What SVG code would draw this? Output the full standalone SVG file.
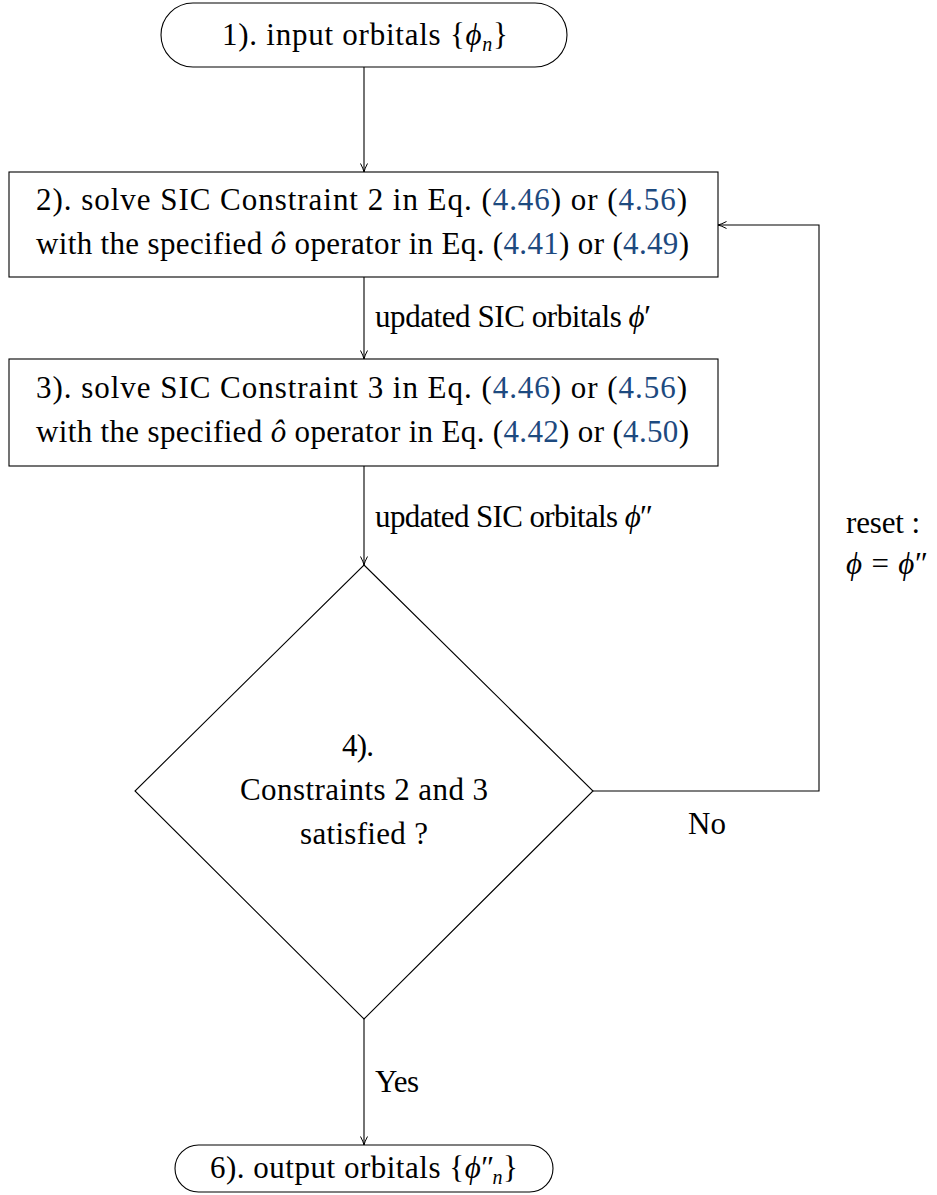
<svg xmlns="http://www.w3.org/2000/svg" width="937" height="1195" viewBox="0 0 937 1195">
<style>
text{font-family:"Liberation Serif","DejaVu Serif",serif;font-size:31px;fill:#000}
.i{font-style:italic}
.l{fill:#1d4a7f}
.s{font-size:20px}
.n{fill:none;stroke:#000;stroke-width:1.1}
</style>
<defs>
<marker id="ar" viewBox="0 0 10 10" refX="9.5" refY="5" markerWidth="10" markerHeight="10" markerUnits="userSpaceOnUse" orient="auto">
<path d="M1,1.5 Q6,4.2 9.5,5 Q6,5.8 1,8.5" fill="none" stroke="#000" stroke-width="1"/>
</marker>
</defs>
<rect width="937" height="1195" fill="#fff"/>
<g id="connectors" class="n">
<line x1="364" y1="67" x2="364" y2="172" marker-end="url(#ar)"/>
<line x1="364" y1="277" x2="364" y2="359" marker-end="url(#ar)"/>
<line x1="364" y1="466" x2="364" y2="565" marker-end="url(#ar)"/>
<line x1="364" y1="1019" x2="364" y2="1145" marker-end="url(#ar)"/>
<polyline points="593,791 819,791 819,225 718,225" marker-end="url(#ar)"/>
</g>
<g id="labels">
<text x="375" y="327" textLength="276" lengthAdjust="spacing">updated SIC orbitals <tspan class="i">ϕ</tspan>′</text>
<text x="375" y="527" textLength="278" lengthAdjust="spacing">updated SIC orbitals <tspan class="i">ϕ</tspan>″</text>
<text x="846" y="533" textLength="74" lengthAdjust="spacing">reset :</text>
<text x="846" y="574" textLength="82" lengthAdjust="spacing"><tspan class="i">ϕ</tspan> = <tspan class="i">ϕ</tspan>″</text>
<text x="688" y="834" textLength="38" lengthAdjust="spacing">No</text>
<text x="375" y="1092" textLength="44" lengthAdjust="spacing">Yes</text>
</g>
<g id="n1">
<rect x="161" y="3" width="406" height="64" rx="32" class="n"/>
<text x="222" y="45" textLength="286" lengthAdjust="spacing">1). input orbitals {<tspan class="i">ϕ</tspan><tspan class="i s" dy="6">n</tspan><tspan dy="-6">}</tspan></text>
</g>
<g id="n2">
<rect x="9" y="172" width="709" height="105" class="n"/>
<text x="36" y="210" textLength="651" lengthAdjust="spacing">2).  solve SIC Constraint 2 in Eq. (<tspan class="l">4.46</tspan>) or (<tspan class="l">4.56</tspan>)</text>
<text x="36" y="254" textLength="653" lengthAdjust="spacing">with the specified <tspan class="i">ô</tspan> operator in Eq. (<tspan class="l">4.41</tspan>) or (<tspan class="l">4.49</tspan>)</text>
</g>
<g id="n3">
<rect x="9" y="359" width="709" height="107" class="n"/>
<text x="36" y="398" textLength="651" lengthAdjust="spacing">3).  solve SIC Constraint 3 in Eq. (<tspan class="l">4.46</tspan>) or (<tspan class="l">4.56</tspan>)</text>
<text x="36" y="442" textLength="653" lengthAdjust="spacing">with the specified <tspan class="i">ô</tspan> operator in Eq. (<tspan class="l">4.42</tspan>) or (<tspan class="l">4.50</tspan>)</text>
</g>
<g id="n4">
<polygon points="364,565 593,791 364,1019 135,791" class="n"/>
<text x="342" y="756" textLength="32" lengthAdjust="spacing">4).</text>
<text x="240" y="800" textLength="248" lengthAdjust="spacing">Constraints 2 and 3</text>
<text x="300" y="844" textLength="128" lengthAdjust="spacing">satisfied ?</text>
</g>
<g id="n6">
<rect x="175" y="1145" width="378" height="47" rx="23.5" class="n"/>
<text x="210" y="1178" textLength="308" lengthAdjust="spacing">6). output orbitals {<tspan class="i">ϕ</tspan>″<tspan class="i s" dx="-2" dy="6">n</tspan><tspan dy="-6">}</tspan></text>
</g>
</svg>
